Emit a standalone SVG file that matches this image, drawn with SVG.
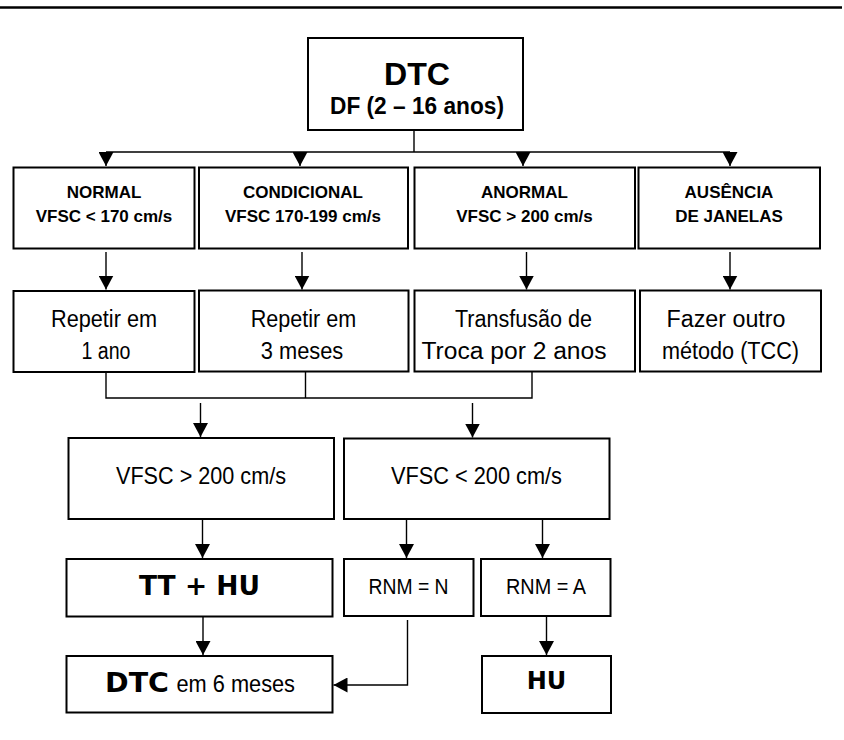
<svg xmlns="http://www.w3.org/2000/svg" width="844" height="740" viewBox="0 0 844 740">
<defs>
<style>
.box{fill:#fff;stroke:#000;stroke-width:2}
.ln{fill:none;stroke:#000;stroke-width:1.4}
.arr{fill:none;stroke:#000;stroke-width:1.4;marker-end:url(#ah)}
.b17{font-family:"Liberation Sans",Arial,sans-serif;font-weight:bold;font-size:17px;text-anchor:middle;fill:#000}
.r23{font-family:"Liberation Sans",Arial,sans-serif;font-size:23px;text-anchor:middle;fill:#000}
.r24{font-family:"Liberation Sans",Arial,sans-serif;font-size:24px;text-anchor:middle;fill:#000}
.r22{font-family:"Liberation Sans",Arial,sans-serif;font-size:22px;text-anchor:middle;fill:#000}
.wb{font-family:"DejaVu Sans",Verdana,sans-serif;font-weight:bold;fill:#000}
</style>
<marker id="ah" markerWidth="15" markerHeight="15" refX="14" refY="7.5" orient="auto" markerUnits="userSpaceOnUse">
<path d="M0,0 L14,7.5 L0,15 Z" fill="#000"/>
</marker>
</defs>
<rect width="844" height="740" fill="#fff"/>
<line x1="0" y1="7.5" x2="842" y2="7.5" stroke="#000" stroke-width="2.5"/>

<g id="connectors">
<path class="ln" d="M414,130 V152 M106,152 H730"/>
<line class="arr" x1="106" y1="152" x2="106" y2="166"/>
<line class="arr" x1="300" y1="152" x2="300" y2="166"/>
<line class="arr" x1="523" y1="152" x2="523" y2="166"/>
<line class="arr" x1="730" y1="152" x2="730" y2="166"/>
<line class="arr" x1="106" y1="252" x2="106" y2="289.5"/>
<line class="arr" x1="302" y1="252" x2="302" y2="289.5"/>
<line class="arr" x1="526.5" y1="252" x2="526.5" y2="289.5"/>
<line class="arr" x1="730" y1="252" x2="730" y2="289.5"/>
<path class="ln" d="M106,372 V398 H532 V371.5 M305.5,371.5 V398"/>
<line class="arr" x1="200.5" y1="403" x2="200.5" y2="437"/>
<line class="arr" x1="472.5" y1="403" x2="472.5" y2="437.5"/>
<line class="arr" x1="202.5" y1="519.5" x2="202.5" y2="558"/>
<line class="arr" x1="406.5" y1="519.5" x2="406.5" y2="558"/>
<line class="arr" x1="542.5" y1="519.5" x2="542.5" y2="558"/>
<line class="arr" x1="203" y1="617" x2="203" y2="655"/>
<line class="arr" x1="546.5" y1="616.5" x2="546.5" y2="655"/>
<path class="arr" d="M407.5,620 V685 H333.5"/>
</g>

<g id="dtc">
<rect class="box" x="308" y="38" width="215" height="92"/>
<text x="417" y="85" font-family="Liberation Sans, Arial, sans-serif" font-weight="bold" font-size="31" text-anchor="middle" textLength="66" lengthAdjust="spacingAndGlyphs">DTC</text>
<text x="417" y="114" font-family="Liberation Sans, Arial, sans-serif" font-weight="bold" font-size="23" text-anchor="middle" textLength="174" lengthAdjust="spacingAndGlyphs">DF (2 – 16 anos)</text>
</g>

<g id="normal">
<rect class="box" x="13.5" y="167.5" width="181" height="81"/>
<text class="b17" x="104" y="197.5">NORMAL</text>
<text class="b17" x="104" y="221.5">VFSC &lt; 170 cm/s</text>
</g>
<g id="condicional">
<rect class="box" x="199" y="167.5" width="209" height="81"/>
<text class="b17" x="303" y="197.5">CONDICIONAL</text>
<text class="b17" x="303" y="221.5">VFSC 170-199 cm/s</text>
</g>
<g id="anormal">
<rect class="box" x="414.5" y="167.5" width="220.5" height="81"/>
<text class="b17" x="524.5" y="197.5">ANORMAL</text>
<text class="b17" x="524.5" y="221.5">VFSC &gt; 200 cm/s</text>
</g>
<g id="ausencia">
<rect class="box" x="638.5" y="167.5" width="181.5" height="81"/>
<text class="b17" x="729" y="197.5">AUSÊNCIA</text>
<text class="b17" x="729" y="221.5">DE JANELAS</text>
</g>

<g id="repetir1">
<rect class="box" x="13.5" y="291" width="181" height="81"/>
<text class="r23" x="104" y="327" textLength="106" lengthAdjust="spacingAndGlyphs">Repetir em</text>
<text class="r23" x="106" y="358.5" textLength="49" lengthAdjust="spacingAndGlyphs">1 ano</text>
</g>
<g id="repetir3">
<rect class="box" x="199" y="290.5" width="209.5" height="81"/>
<text class="r23" x="303.5" y="327" textLength="105.5" lengthAdjust="spacingAndGlyphs">Repetir em</text>
<text class="r23" x="302" y="358.5" textLength="82.5" lengthAdjust="spacingAndGlyphs">3 meses</text>
</g>
<g id="transfusao">
<rect class="box" x="414.5" y="290.5" width="220.5" height="81"/>
<text class="r23" x="523.5" y="327" textLength="137" lengthAdjust="spacingAndGlyphs">Transfusão de</text>
<text class="r23" x="514" y="358.5" textLength="185" lengthAdjust="spacingAndGlyphs">Troca por 2 anos</text>
</g>
<g id="fazer">
<rect class="box" x="640" y="290.5" width="181" height="81"/>
<text class="r23" x="726" y="327" textLength="119" lengthAdjust="spacingAndGlyphs">Fazer outro</text>
<text class="r23" x="730.5" y="358.5" textLength="137" lengthAdjust="spacingAndGlyphs">método (TCC)</text>
</g>

<g id="vfsc_maior">
<rect class="box" x="68.5" y="438" width="265.5" height="81"/>
<text class="r24" x="201" y="484" textLength="170" lengthAdjust="spacingAndGlyphs">VFSC &gt; 200 cm/s</text>
</g>
<g id="vfsc_menor">
<rect class="box" x="344" y="438.5" width="265.5" height="80.5"/>
<text class="r24" x="476.5" y="484" textLength="171" lengthAdjust="spacingAndGlyphs">VFSC &lt; 200 cm/s</text>
</g>

<g id="tt_hu">
<rect class="box" x="66.5" y="559" width="266" height="57.5"/>
<text class="wb" x="199.5" y="595" font-size="26.5" text-anchor="middle">TT + HU</text>
</g>
<g id="rnm_n">
<rect class="box" x="344" y="559" width="129.5" height="57"/>
<text class="r22" x="408.5" y="594" textLength="80" lengthAdjust="spacingAndGlyphs">RNM = N</text>
</g>
<g id="rnm_a">
<rect class="box" x="481" y="559" width="129.5" height="57"/>
<text class="r22" x="546" y="594" textLength="80" lengthAdjust="spacingAndGlyphs">RNM = A</text>
</g>

<g id="dtc6">
<rect class="box" x="66.5" y="656" width="266" height="56.5"/>
<text class="wb" x="105" y="692" font-size="27" textLength="64" lengthAdjust="spacingAndGlyphs">DTC</text>
<text x="176.5" y="692" font-family="Liberation Sans, Arial, sans-serif" font-size="23" textLength="118.5" lengthAdjust="spacingAndGlyphs">em 6 meses</text>
</g>
<g id="hu">
<rect class="box" x="482" y="656" width="129" height="57"/>
<text class="wb" x="546.5" y="689" font-size="24" text-anchor="middle">HU</text>
</g>
</svg>
